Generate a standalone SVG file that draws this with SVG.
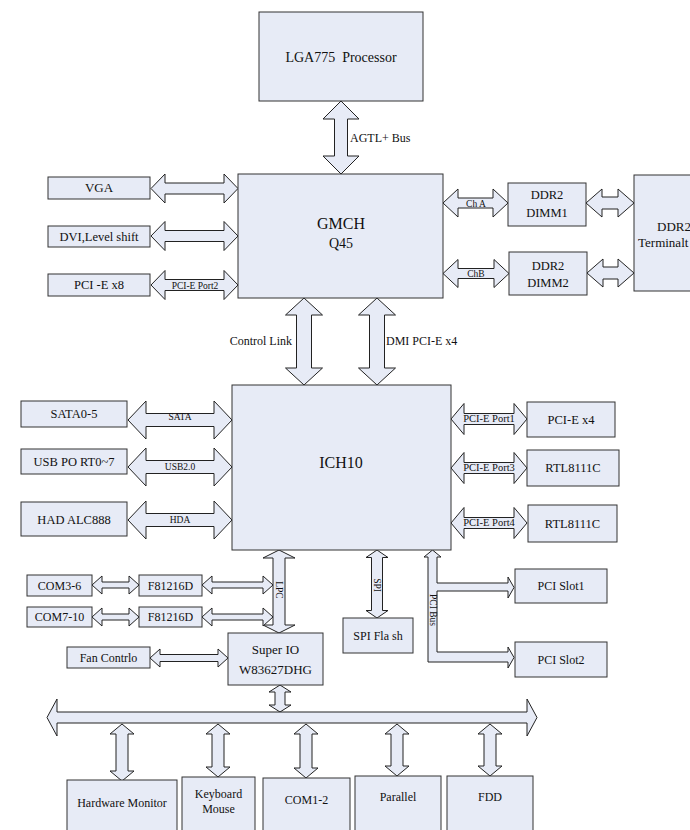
<svg xmlns="http://www.w3.org/2000/svg" width="690" height="830" viewBox="0 0 690 830">
<style>
.b{fill:#E7EBF6;stroke:#333;stroke-width:1}
.a{fill:#E7EBF6;stroke:#222;stroke-width:1;stroke-linejoin:miter}
text{font-family:"Liberation Serif","Times New Roman",serif;fill:#111;text-anchor:middle}
.t{font-size:12.5px}
.s{font-size:9.5px}
.m{font-size:10.5px}
.l{font-size:12px}
.big{font-size:16px}
</style>
<rect width="690" height="830" fill="#fff"/>
<g id="connectors">
<polygon class="a" points="341,101 359,119 347.5,119 347.5,156 359,156 341,174 323,156 334.5,156 334.5,119 323,119"/>
<polygon class="a" points="151,188.5 165,174 165,183 224,183 224,174 238,188.5 224,203 224,194 165,194 165,203"/>
<polygon class="a" points="151,236 165,221.5 165,230.5 224,230.5 224,221.5 238,236 224,250.5 224,241.5 165,241.5 165,250.5"/>
<polygon class="a" points="151,285 165,270.5 165,279.5 224,279.5 224,270.5 238,285 224,299.5 224,290.5 165,290.5 165,299.5"/>
<polygon class="a" points="443,203 458,189 458,198 493,198 493,189 508,203 493,217 493,208 458,208 458,217"/>
<polygon class="a" points="443,273.5 458,259.5 458,268.5 494,268.5 494,259.5 509,273.5 494,287.5 494,278.5 458,278.5 458,287.5"/>
<polygon class="a" points="586,203 602,189 602,197 618,197 618,189 634,203 618,217 618,209 602,209 602,217"/>
<polygon class="a" points="587,273 603,259 603,267 618,267 618,259 634,273 618,287 618,279 603,279 603,287"/>
<polygon class="a" points="304,298 322.5,315 311.5,315 311.5,368 322.5,368 304,385 285.5,368 296.5,368 296.5,315 285.5,315"/>
<polygon class="a" points="377,298 395.5,315 384.5,315 384.5,368 395.5,368 377,385 358.5,368 369.5,368 369.5,315 358.5,315"/>
<polygon class="a" points="128,420 146,401 146,413.5 214,413.5 214,401 232,420 214,439 214,426.5 146,426.5 146,439"/>
<polygon class="a" points="128,467 146,448 146,460.5 214,460.5 214,448 232,467 214,486 214,473.5 146,473.5 146,486"/>
<polygon class="a" points="128,520 146,501 146,513.5 214,513.5 214,501 232,520 214,539 214,526.5 146,526.5 146,539"/>
<polygon class="a" points="451,419 464,403.5 464,413.5 514,413.5 514,403.5 527,419 514,434.5 514,424.5 464,424.5 464,434.5"/>
<polygon class="a" points="451,468 464,452.5 464,462.5 514,462.5 514,452.5 527,468 514,483.5 514,473.5 464,473.5 464,483.5"/>
<polygon class="a" points="451,523 464,507.5 464,517.5 514,517.5 514,507.5 527,523 514,538.5 514,528.5 464,528.5 464,538.5"/>
<polygon class="a" points="377,550 388,557.5 382.5,557.5 382.5,610.5 388,610.5 377,618 366,610.5 371.5,610.5 371.5,557.5 366,557.5"/>
<polygon class="a" points="432.5,550 441,557 437,557 437,583 508,583 508,577 514,587.5 508,598 508,591 437,591 437,652 508,652 508,647 514,657.5 508,668 508,662 428,662 428,557 424,557"/>
<polygon class="a" points="279,550 295,558 285,558 285,625 295,625 279,633 263,625 273,625 273,558 263,558"/>
<polygon class="a" points="202,585 212,576 212,582 263,582 263,576 273,585 263,594 263,588 212,588 212,594"/>
<polygon class="a" points="202,617 212,608 212,614 263,614 263,608 273,617 263,626 263,620 212,620 212,626"/>
<polygon class="a" points="92,585 102,576 102,582 129,582 129,576 139,585 129,594 129,588 102,588 102,594"/>
<polygon class="a" points="92,617 102,608 102,614 129,614 129,608 139,617 129,626 129,620 102,620 102,626"/>
<polygon class="a" points="150,658 160,649 160,654.5 218,654.5 218,649 228,658 218,667 218,661.5 160,661.5 160,667"/>
<polygon class="a" points="280,685 291,692 285,692 285,705 291,705 280,712 269,705 275,705 275,692 269,692"/>
<polygon class="a" points="47,717.5 57,699 57,712 527,712 527,699 537,717.5 527,736 527,723 57,723 57,736"/>
<polygon class="a" points="122,724 134,734 128,734 128,771 134,771 122,781 110,771 116,771 116,734 110,734"/>
<polygon class="a" points="218,724 230,734 224,734 224,767 230,767 218,777 206,767 212,767 212,734 206,734"/>
<polygon class="a" points="306,724 318,734 312,734 312,768 318,768 306,778 294,768 300,768 300,734 294,734"/>
<polygon class="a" points="397,724 409,734 403,734 403,766 409,766 397,776 385,766 391,766 391,734 385,734"/>
<polygon class="a" points="490,724 502,734 496,734 496,766 502,766 490,776 478,766 484,766 484,734 478,734"/>
<text x="350" y="142" class="l" style="text-anchor:start">AGTL+ Bus</text>
<text x="195" y="289" class="s">PCI-E Port2</text>
<text x="476" y="207" class="s">Ch A</text>
<text x="476" y="277" class="s">ChB</text>
<text x="292" y="345" class="l" style="text-anchor:end">Control Link</text>
<text x="386" y="345" class="l" style="text-anchor:start">DMI PCI-E x4</text>
<text x="180" y="420" class="s">SATA</text>
<text x="180" y="470" class="s">USB2.0</text>
<text x="180" y="523" class="s">HDA</text>
<text x="489" y="422" class="m">PCI-E Port1</text>
<text x="489" y="471" class="m">PCI-E Port3</text>
<text x="489" y="526" class="m">PCI-E Port4</text>
<text class="s" transform="translate(276,590) rotate(90)">LPC</text>
<text class="s" transform="translate(374,585) rotate(90)">SPI</text>
<text class="s" transform="translate(429.5,610) rotate(90)">PCI Bus</text>
</g>
<g id="cpu"><rect class="b" x="259" y="12" width="164" height="89"/><text x="341" y="62" style="font-size:14px">LGA775&#160; Processor</text></g>
<g id="gmch"><rect class="b" x="238" y="174" width="205" height="124"/><text x="341" y="229" class="big">GMCH</text><text x="341" y="248" style="font-size:14px">Q45</text></g>
<g id="vga"><rect class="b" x="48" y="177" width="102" height="22"/><text x="99" y="192" style="font-size:13px">VGA</text></g>
<g id="dvi"><rect class="b" x="48" y="226" width="102" height="21"/><text x="99" y="241" class="t">DVI,Level shift</text></g>
<g id="pcie8"><rect class="b" x="48" y="274" width="102" height="22"/><text x="99" y="289" class="t">PCI -E x8</text></g>
<g id="dimm1"><rect class="b" x="508" y="183" width="78" height="43"/><text x="547" y="199" class="t">DDR2</text><text x="547" y="217" class="t">DIMM1</text></g>
<g id="dimm2"><rect class="b" x="509" y="252" width="78" height="43"/><text x="548" y="270" class="t">DDR2</text><text x="548" y="287" class="t">DIMM2</text></g>
<g id="term"><rect class="b" x="634" y="175" width="70" height="116"/><text x="657" y="231" style="font-size:13px;text-anchor:start">DDR2</text><text x="638" y="247" style="font-size:13px;text-anchor:start">Terminalt</text></g>
<g id="ich10"><rect class="b" x="232" y="385" width="219" height="165"/><text x="341" y="468" class="big">ICH10</text></g>
<g id="sata"><rect class="b" x="21" y="401" width="106" height="26"/><text x="74" y="418" class="t">SATA0-5</text></g>
<g id="usb"><rect class="b" x="21" y="449" width="106" height="25"/><text x="74" y="466" class="t">USB PO RT0~7</text></g>
<g id="had"><rect class="b" x="21" y="502" width="106" height="34"/><text x="74" y="524" class="t">HAD ALC888</text></g>
<g id="pcie4"><rect class="b" x="527" y="402" width="88" height="35"/><text x="571" y="424" class="t">PCI-E x4</text></g>
<g id="rtl1"><rect class="b" x="527" y="450" width="92" height="36"/><text x="573" y="472" class="t">RTL8111C</text></g>
<g id="rtl2"><rect class="b" x="528" y="505" width="89" height="37"/><text x="572.5" y="528" class="t">RTL8111C</text></g>
<g id="spiflash"><rect class="b" x="343" y="618" width="70" height="35"/><text x="378" y="640" class="l">SPI Fla sh</text></g>
<g id="slot1"><rect class="b" x="515" y="569" width="92" height="34"/><text x="561" y="590" class="l">PCI Slot1</text></g>
<g id="slot2"><rect class="b" x="515" y="642" width="92" height="35"/><text x="561" y="664" class="l">PCI Slot2</text></g>
<g id="com36"><rect class="b" x="27" y="575" width="65" height="21"/><text x="59.5" y="590" class="l">COM3-6</text></g>
<g id="f1"><rect class="b" x="139" y="575" width="63" height="21"/><text x="170.5" y="590" class="l">F81216D</text></g>
<g id="com710"><rect class="b" x="27" y="607" width="65" height="20"/><text x="59.5" y="621" class="l">COM7-10</text></g>
<g id="f2"><rect class="b" x="139" y="607" width="63" height="20"/><text x="170.5" y="621" class="l">F81216D</text></g>
<g id="superio"><rect class="b" x="228" y="633" width="95" height="52"/><text x="275.5" y="654" style="font-size:13px">Super IO</text><text x="275.5" y="674" style="font-size:13px">W83627DHG</text></g>
<g id="fan"><rect class="b" x="67" y="647" width="83" height="21"/><text x="108.5" y="662" class="l">Fan Contrlo</text></g>
<g id="hwm"><rect class="b" x="67" y="780" width="110" height="62"/><text x="122" y="807" class="l">Hardware Monitor</text></g>
<g id="kbd"><rect class="b" x="182" y="777" width="73" height="65"/><text x="218.5" y="798" class="l">Keyboard</text><text x="218.5" y="813" class="l">Mouse</text></g>
<g id="com12"><rect class="b" x="263" y="778" width="87" height="64"/><text x="306.5" y="804" class="l">COM1-2</text></g>
<g id="parallel"><rect class="b" x="355" y="776" width="86" height="66"/><text x="398" y="801" class="l">Parallel</text></g>
<g id="fdd"><rect class="b" x="447" y="776" width="86" height="66"/><text x="490" y="801" class="l">FDD</text></g>
</svg>
